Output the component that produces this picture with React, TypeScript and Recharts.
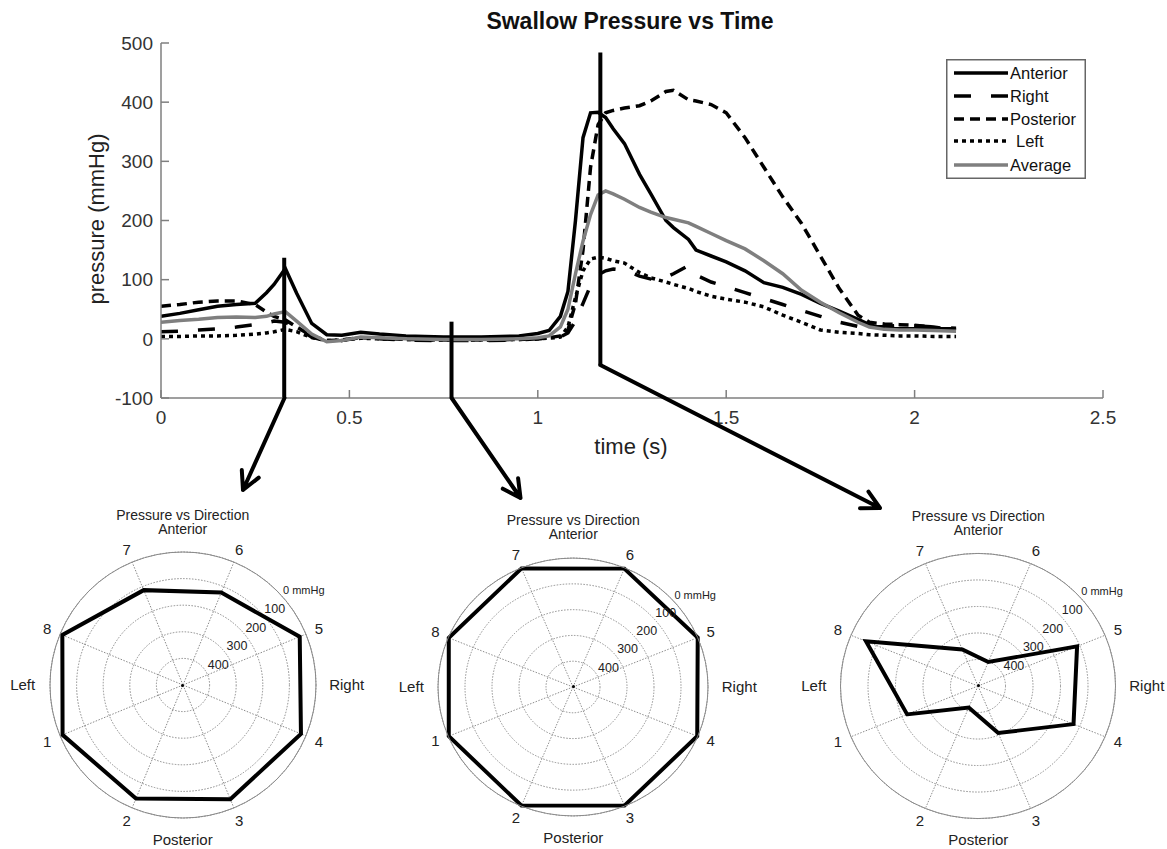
import React from 'react';
import {
  LineChart, Line, XAxis, YAxis, ReferenceLine, Legend,
  RadarChart, Radar, PolarGrid, PolarAngleAxis, PolarRadiusAxis,
} from 'recharts';

const FONT = '"Liberation Sans", Arial, Helvetica, sans-serif';

// ---- main time series (time in s, pressure in mmHg) ----
const TIME = [0, 0.05, 0.1, 0.15, 0.2, 0.25, 0.28, 0.3, 0.33, 0.36, 0.4, 0.44, 0.48, 0.53, 0.58, 0.65, 0.75, 0.85, 0.95, 1.0, 1.03, 1.06, 1.08, 1.1, 1.12, 1.14, 1.16, 1.18, 1.2, 1.23, 1.27, 1.3, 1.34, 1.36, 1.4, 1.42, 1.46, 1.5, 1.55, 1.6, 1.65, 1.7, 1.75, 1.8, 1.85, 1.88, 1.92, 1.96, 2.0, 2.05, 2.11];
const ANTERIOR = [38, 43, 49, 55, 58, 60, 78, 92, 119, 77, 26, 7, 6, 11, 8, 5, 3, 3, 5, 9, 14, 38, 80, 200, 340, 382, 383, 374, 355, 330, 278, 245, 200, 188, 168, 150, 140, 130, 115, 95, 87, 75, 60, 47, 33, 24, 17, 17, 17, 17, 17];
const RIGHT = [12, 13, 15, 17, 20, 24, 27, 30, 28, 18, 3, -4, -3, 2, 0, -2, -3, -3, -2, 0, 1, 3, 10, 30, 60, 90, 108, 115, 118, 116, 106, 101, 104, 110, 124, 108, 96, 88, 78, 68, 58, 48, 38, 28, 21, 20, 21, 23, 22, 20, 18];
const POSTERIOR = [55, 58, 62, 64, 64, 58, 45, 38, 32, 20, 5, -3, -2, 2, 1, -1, -2, -2, -1, 0, 2, 5, 15, 60, 150, 290, 362, 382, 386, 390, 394, 402, 418, 420, 404, 402, 396, 382, 340, 290, 240, 195, 140, 85, 40, 28, 25, 24, 23, 20, 15];
const LEFT = [4, 4, 5, 5, 6, 8, 10, 12, 16, 12, 2, -3, -2, 1, 0, -1, -2, -2, -1, 0, 1, 3, 20, 70, 115, 135, 138, 136, 132, 128, 112, 103, 96, 92, 85, 80, 72, 67, 62, 54, 40, 28, 15, 11, 9, 7, 6, 5, 5, 4, 4];
const AVERAGE = [28, 31, 33, 36, 37, 36, 38, 42, 46, 30, 8, -5, -3, 3, 2, 0, -1, -1, 0, 2, 5, 20, 50, 110, 165, 210, 243, 250, 245, 236, 222, 214, 205, 202, 196, 190, 178, 166, 152, 132, 110, 82, 62, 44, 28, 20, 16, 15, 15, 14, 13];

const X_TICKS = [0, 0.5, 1, 1.5, 2, 2.5];
const Y_TICKS = [-100, 0, 100, 200, 300, 400, 500];

// annotation markers (time, top, bottom in mmHg)
const MARK_T = [0.327, 0.771, 1.166];
const MARK_TOP = [137, 29, 484];
const MARK_BOTTOM = [-100, -100, -44];

// ---- polar snapshots: sensors 1..8, pressure mmHg ----
const SENSORS = ['1', '2', '3', '4', '5', '6', '7', '8'];
const POLAR_A = [10, 38, 35, 20, 25, 124, 114, 9];
const POLAR_B = [2, 2, 2, 2, 0, 3, 2, 2];
const POLAR_C = [221, 412, 308, 124, 110, 402, 351, 59];
const RING_MAX = 500;
const START_ANGLE = -202.5;
const END_ANGLE = 157.5;

const SERIES = [
  { key: 'ant', name: 'Anterior', values: ANTERIOR, color: '#000', dash: undefined as string | undefined },
  { key: 'right', name: 'Right', values: RIGHT, color: '#000', dash: '17 20' },
  { key: 'post', name: 'Posterior', values: POSTERIOR, color: '#000', dash: '10 6' },
  { key: 'left', name: 'Left', values: LEFT, color: '#000', dash: '4 4' },
  { key: 'avg', name: 'Average', values: AVERAGE, color: '#7f7f7f', dash: undefined },
];

const lineData = TIME.map((t, i) => {
  const row: any = { t };
  SERIES.forEach((s) => { row[s.key] = s.values[i]; });
  return row;
});

function LegendBox() {
  const rows = [14, 37, 60, 82, 106];
  return (
    <svg width={140} height={120} style={{ display: 'block' }}>
      <rect x={0.75} y={0.75} width={138.5} height={118.5} fill="#fff" stroke="#666" strokeWidth={1.5} />
      {SERIES.map((s, i) => (
        <g key={s.key}>
          <line x1={8} x2={62} y1={rows[i]} y2={rows[i]} stroke={s.color} strokeWidth={3.5} strokeDasharray={s.dash} />
          <text x={s.name === 'Left' ? 70 : 64} y={rows[i]} fontSize={16.5} fill="#111" dominantBaseline="central" fontFamily={FONT}>{s.name}</text>
        </g>
      ))}
    </svg>
  );
}

function arrowPath(x1: number, y1: number, x2: number, y2: number) {
  const a = Math.atan2(y2 - y1, x2 - x1);
  const L = 20;
  const s = Math.PI / 6.5;
  const p1 = [x2 - L * Math.cos(a - s), y2 - L * Math.sin(a - s)];
  const p2 = [x2 - L * Math.cos(a + s), y2 - L * Math.sin(a + s)];
  return `M${x1},${y1} L${x2},${y2} M${p1[0]},${p1[1]} L${x2},${y2} L${p2[0]},${p2[1]}`;
}

function Polar({ values, cx, cy, R, sy }: { values: number[]; cx: number; cy: number; R: number; sy: number }) {
  const W = 340, H = 340;
  const c = W / 2;
  const data = SENSORS.map((s, i) => ({ s, p: values[i] }));
  const Rv = R * sy;
  const step = (END_ANGLE - START_ANGLE) / SENSORS.length;

  const angleTick = (props: any) => {
    const { payload } = props;
    const idx = SENSORS.indexOf(String(payload.value));
    const ang = ((START_ANGLE + step * (idx + 1)) * Math.PI) / 180;
    const r = R + 14;
    return (
      <text x={c + r * Math.cos(ang)} y={c - r * Math.sin(ang)} textAnchor="middle" dominantBaseline="central" fontSize={15} fill="#222" fontFamily={FONT}>
        {payload.value}
      </text>
    );
  };
  const ringTick = (props: any) => {
    const { x, y, payload } = props;
    const v = payload?.value;
    if (v === 0 || v == null) return <g />;
    const label = v === RING_MAX ? '0 mmHg' : String(RING_MAX - v);
    return (
      <text x={x + 6} y={y - 1} textAnchor="start" dominantBaseline="central" fontSize={v === RING_MAX ? 11 : 12.5} fill="#222" fontFamily={FONT}>
        {label}
      </text>
    );
  };
  const txt = (s: string, x: number, y: number, size = 14) => (
    <div style={{ position: 'absolute', left: x - 100, top: y - size * 0.6, width: 200, textAlign: 'center', fontSize: size, lineHeight: `${size * 1.2}px`, color: '#222', fontFamily: FONT, whiteSpace: 'nowrap' }}>{s}</div>
  );

  return (
    <div style={{ position: 'absolute', left: cx - c, top: cy - c, width: W, height: H }}>
      <div style={{ width: W, height: H, transform: `scaleY(${sy})`, transformOrigin: '50% 50%' }}>
        <RadarChart width={W} height={H} data={data} cx={c} cy={c} outerRadius={R} startAngle={START_ANGLE} endAngle={END_ANGLE} margin={{ top: 0, right: 0, bottom: 0, left: 0 }}>
          <PolarGrid gridType="circle" stroke="#8a8a8a" strokeWidth={1} strokeDasharray="1.5 1.5" />
          <PolarAngleAxis dataKey="s" axisLineType="circle" axisLine={{ stroke: '#8a8a8a', strokeWidth: 1 }} tickLine={false} tick={angleTick} />
          <PolarRadiusAxis type="number" domain={[0, RING_MAX]} tickCount={6} angle={45} axisLine={false} tickLine={false} tick={ringTick} />
          <Radar dataKey={(d: any) => RING_MAX - d.p} stroke="#000" strokeWidth={4} fill="none" fillOpacity={0} dot={false} isAnimationActive={false} />
        </RadarChart>
      </div>
      <div style={{ position: 'absolute', left: c - 1.5, top: c - 1.5, width: 3, height: 3, borderRadius: 2, background: '#000' }} />
      {txt('Pressure vs Direction', c, c - Rv - 37)}
      {txt('Anterior', c, c - Rv - 23)}
      {txt('Posterior', c, c + Rv + 22, 15)}
      {txt('Left', c - R - 27, c, 15)}
      {txt('Right', c + R + 31, c, 15)}
    </div>
  );
}

export default function App() {
  const ARROWS = [
    [284.5, 398, 243, 490],
    [451.6, 398, 520.5, 498],
    [600.3, 365, 880, 508],
  ];
  return (
    <div style={{ position: 'absolute', left: 0, top: 0, width: 1167, height: 849, background: '#fff', fontFamily: FONT, overflow: 'hidden' }}>
      <div style={{ position: 'absolute', left: 0, top: 8, width: 1167, textAlign: 'center', paddingLeft: 93, boxSizing: 'border-box', fontSize: 23, fontWeight: 'bold', color: '#111', lineHeight: '26px' }}>
        Swallow Pressure vs Time
      </div>
      <div style={{ position: 'absolute', left: 0, top: 0, width: 1167, height: 470 }}>
        <LineChart width={1167} height={470} data={lineData} margin={{ top: 43, right: 64, left: 101, bottom: 32 }}>
          <XAxis
            dataKey="t" type="number" domain={[0, 2.5]} ticks={X_TICKS} allowDataOverflow
            height={40} tickSize={-8} tickMargin={21}
            axisLine={{ stroke: '#7f7f7f', strokeWidth: 1.5 }} tickLine={{ stroke: '#7f7f7f', strokeWidth: 1.5 }}
            tick={{ fontSize: 19, fill: '#333', fontFamily: FONT }}
            tickFormatter={(v: number) => String(v)}
          />
          <YAxis
            type="number" domain={[-100, 500]} ticks={Y_TICKS} allowDataOverflow
            width={60} tickSize={-8} tickMargin={16}
            axisLine={{ stroke: '#7f7f7f', strokeWidth: 1.5 }} tickLine={{ stroke: '#7f7f7f', strokeWidth: 1.5 }}
            tick={{ fontSize: 19, fill: '#333', fontFamily: FONT }}
          />
          {SERIES.map((s) => (
            <Line key={s.key} type="linear" dataKey={s.key} name={s.name} stroke={s.color} strokeWidth={3.5}
              strokeDasharray={s.dash} dot={false} activeDot={false} isAnimationActive={false} />
          ))}
          {MARK_T.map((t, i) => (
            <ReferenceLine key={i} segment={[{ x: t, y: MARK_TOP[i] }, { x: t, y: MARK_BOTTOM[i] }]} stroke="#000" strokeWidth={4} ifOverflow="visible" />
          ))}
          <Legend layout="vertical" align="center" verticalAlign="middle" content={() => <LegendBox />}
            wrapperStyle={{ left: 946, top: 59, width: 140, height: 120 }} />
        </LineChart>
      </div>
      <div style={{ position: 'absolute', left: 97 - 120, top: 219 - 14, width: 240, height: 28, textAlign: 'center', fontSize: 22, lineHeight: '28px', color: '#222', transform: 'rotate(-90deg)' }}>
        pressure (mmHg)
      </div>
      <div style={{ position: 'absolute', left: 631 - 100, top: 447 - 14, width: 200, height: 28, textAlign: 'center', fontSize: 22, lineHeight: '28px', color: '#222' }}>
        time (s)
      </div>

      <Polar values={POLAR_A} cx={182.7} cy={685} R={133} sy={1} />
      <Polar values={POLAR_B} cx={573.3} cy={686.7} R={135} sy={0.955} />
      <Polar values={POLAR_C} cx={978.3} cy={685.7} R={137.5} sy={0.964} />

      <svg width={1167} height={849} style={{ position: 'absolute', left: 0, top: 0, pointerEvents: 'none' }}>
        {ARROWS.map((a, i) => (
          <path key={i} d={arrowPath(a[0], a[1], a[2], a[3])} fill="none" stroke="#000" strokeWidth={4} strokeLinecap="round" strokeLinejoin="round" />
        ))}
      </svg>
    </div>
  );
}
